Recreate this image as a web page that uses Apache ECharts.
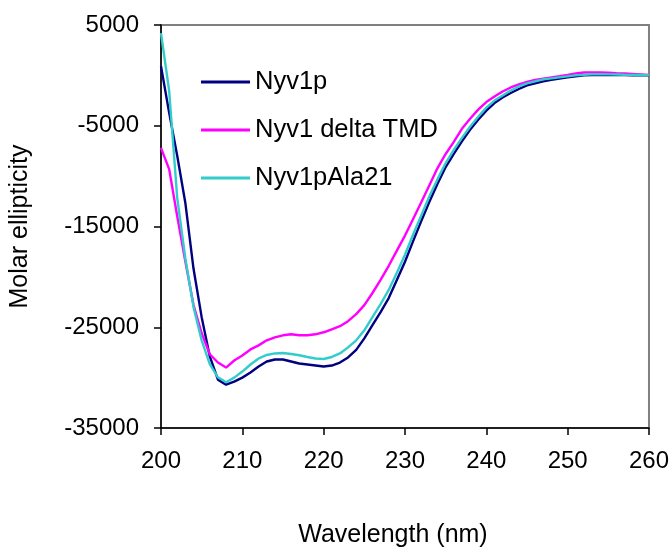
<!DOCTYPE html>
<html>
<head>
<meta charset="utf-8">
<script src="https://cdn.jsdelivr.net/npm/echarts@6/dist/echarts.min.js"></script>
<style>
  html, body { margin: 0; padding: 0; background: #ffffff; }
  #chart { width: 672px; height: 553px; }
</style>
</head>
<body>
<div id="chart"></div>
<script>
// Wavelength (nm), one reading per nanometre
const wavelengths = [
  200, 201, 202, 203, 204, 205, 206, 207, 208, 209,
  210, 211, 212, 213, 214, 215, 216, 217, 218, 219,
  220, 221, 222, 223, 224, 225, 226, 227, 228, 229,
  230, 231, 232, 233, 234, 235, 236, 237, 238, 239,
  240, 241, 242, 243, 244, 245, 246, 247, 248, 249,
  250, 251, 252, 253, 254, 255, 256, 257, 258, 259, 260
];

// Molar ellipticity, Nyv1p
const nyv1p = [
  900, -3700, -8000, -12700, -19200, -24000, -27900, -30200, -30700, -30400,
  -30000, -29500, -28900, -28400, -28200, -28200, -28400, -28600, -28700, -28800,
  -28900, -28800, -28500, -28000, -27250, -26100, -24800, -23500, -22100, -20300,
  -18500, -16450, -14450, -12550, -10750, -9100, -7800, -6550, -5400, -4400,
  -3500, -2750, -2200, -1750, -1350, -1000, -780, -600, -440, -310,
  -200, -100, 0, 30, 30, 30, 20, 20, 0, 0, 0
];

// Molar ellipticity, Nyv1 delta TMD
const nyv1DeltaTmd = [
  -7200, -9300, -14000, -18500, -22800, -25600, -27680, -28500, -29000, -28300,
  -27800, -27200, -26800, -26300, -26000, -25800, -25700, -25800, -25800, -25700,
  -25500, -25200, -24900, -24400, -23700, -22800, -21600, -20300, -18900, -17400,
  -15900, -14250, -12600, -10900, -9200, -7800, -6600, -5300, -4300, -3400,
  -2650, -2100, -1600, -1200, -900, -650, -450, -320, -200, -80,
  50, 200, 280, 300, 300, 260, 220, 200, 150, 100, 50
];

// Molar ellipticity, Nyv1pAla21
const nyv1pAla21 = [
  4200, -1500, -12200, -18200, -23000, -26300, -28660, -29970, -30460, -30000,
  -29400, -28700, -28100, -27750, -27600, -27550, -27650, -27780, -27950, -28100,
  -28150, -27950, -27600, -27000, -26300, -25300, -24000, -22700, -21300, -19600,
  -17800, -15800, -13900, -12000, -10300, -8700, -7400, -6200, -5100, -4100,
  -3200, -2500, -2000, -1500, -1100, -800, -600, -400, -300, -200,
  -100, 0, 50, 100, 100, 100, 80, 60, 50, 30, 20
];

const seriesNames = ['Nyv1p', 'Nyv1 delta TMD', 'Nyv1pAla21'];
const seriesValues = [nyv1p, nyv1DeltaTmd, nyv1pAla21];
const seriesColors = ['#000080', '#FF00FF', '#33CCCC'];

const FONT = '"Liberation Sans", Arial, sans-serif';

function pairs(values) {
  return wavelengths.map((w, i) => [w, values[i]]);
}

const chart = echarts.init(document.getElementById('chart'), null, { renderer: 'canvas' });

chart.setOption({
  animation: false,
  backgroundColor: '#ffffff',
  textStyle: { fontFamily: FONT, color: '#000000' },
  grid: {
    left: 159, top: 25, width: 490, height: 408,
    show: true, borderColor: '#808080', borderWidth: 2, backgroundColor: 'transparent'
  },
  legend: {
    orient: 'vertical',
    left: 196, top: 64,
    itemWidth: 49, itemHeight: 14, itemGap: 22,
    data: seriesNames.map((n, i) => ({
      name: n,
      icon: 'path://M0,5.5 L49,5.5 L49,8.5 L0,8.5 Z',
      itemStyle: { color: seriesColors[i] }
    })),
    textStyle: { fontFamily: FONT, fontSize: 25.5, color: '#000000' },
    selectedMode: false
  },
  xAxis: {
    type: 'value',
    min: 200, max: 260, interval: 10,
    name: 'Wavelength (nm)',
    nameLocation: 'middle',
    nameGap: 95,
    nameTextStyle: { fontFamily: FONT, fontSize: 25, color: '#000000', padding: [0, 24, 0, 0] },
    axisLine: { show: true, onZero: false, lineStyle: { color: '#000000', width: 1.5 } },
    axisTick: { show: true, inside: false, length: 7, lineStyle: { color: '#000000', width: 1.5 } },
    axisLabel: { fontFamily: FONT, fontSize: 24, color: '#000000', margin: 21 },
    splitLine: { show: false }
  },
  yAxis: {
    type: 'value',
    min: -35000, max: 5000, interval: 10000,
    name: 'Molar ellipticity',
    nameLocation: 'middle',
    nameGap: 128,
    nameRotate: 90,
    nameTextStyle: { fontFamily: FONT, fontSize: 25, color: '#000000' },
    axisLine: { show: true, onZero: false, lineStyle: { color: '#000000', width: 1.5 } },
    axisTick: { show: true, inside: false, length: 7, lineStyle: { color: '#000000', width: 1.5 } },
    axisLabel: {
      fontFamily: FONT, fontSize: 24, color: '#000000', margin: 22,
      formatter: (v) => String(v)
    },
    splitLine: { show: false }
  },
  series: seriesNames.map((n, i) => ({
    name: n,
    type: 'line',
    data: pairs(seriesValues[i]),
    symbol: 'none',
    showSymbol: false,
    lineStyle: { color: seriesColors[i], width: 2.4 },
    itemStyle: { color: seriesColors[i] },
    clip: true
  }))
});
</script>
</body>
</html>
